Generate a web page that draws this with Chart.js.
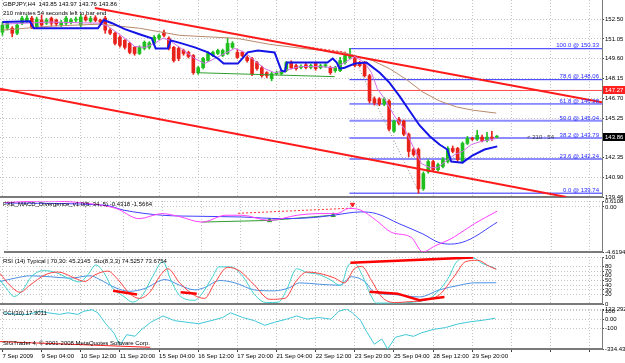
<!DOCTYPE html>
<html>
<head>
<meta charset="utf-8">
<title>GBPJPY H4</title>
<script src="https://cdn.jsdelivr.net/npm/chart.js@4.4.1/dist/chart.umd.min.js"></script>
<style>
  body { margin: 0; background: #fff; }
  #wrap { position: relative; width: 625px; height: 363px; overflow: hidden; background: #fff; }
  #wrap canvas { position: absolute; left: 0; }
  .txt { position: absolute; left: 3px; font: 6px 'Liberation Sans', Arial, sans-serif; color: #000; white-space: pre; line-height: 7px; z-index: 5; }
</style>
</head>
<body>
<div id="wrap">
  <canvas id="mainChart" width="625" height="206" style="top:0"></canvas>
  <canvas id="macdChart" width="625" height="62" style="top:195px"></canvas>
  <canvas id="rsiChart" width="625" height="59" style="top:251px"></canvas>
  <canvas id="cciChart" width="625" height="60" style="top:303px"></canvas>
  <div class="txt" style="top:1px">GBPJPY,H4  143.85 143.97 143.76 143.86</div>
  <div class="txt" style="top:10px">210 minutes 54 seconds left to bar end</div>
  <div class="txt" style="top:201px">FXE_MACD_Divergence_v1.0(5, 34, 5) -0.4318 -1.5664</div>
  <div class="txt" style="top:258px">RSI (14) Typical | 70,30: 45.2145  Sto(8,3,3) 74.5257 73.6754</div>
  <div class="txt" style="top:310px">CCI(30) 17.3011</div>
  <div class="txt" style="top:340px">SIGTrader 4, © 2001-2008 MetaQuotes Software Corp.</div>
</div>
<script>
// ---- GBPJPY H4 candles, 102 bars ----
const opens = [
  151.54, 151.83, 151.83, 151.46, 152.20, 152.35, 152.57, 151.95, 152.43, 152.20,
  152.57, 152.43, 152.06, 152.20, 152.25, 152.43, 152.06, 152.65, 152.35, 152.60,
  152.43, 152.57, 151.69, 151.46, 151.17, 150.94, 150.72, 150.43, 149.98, 150.35,
  150.43, 150.72, 151.10, 151.54, 151.10, 150.43, 150.35, 150.20, 150.06, 149.83,
  148.57, 148.94, 149.46, 149.83, 149.98, 149.83, 149.98, 150.43, 150.06, 150.06,
  149.69, 149.61, 149.31, 148.94, 148.57, 148.13, 148.50, 148.50, 148.72, 149.31,
  149.09, 148.95, 149.15, 148.95, 149.24, 148.94, 149.05, 148.94, 148.72, 148.72,
  149.31, 149.69, 149.61, 149.31, 149.31, 148.35, 146.65, 146.65, 146.28, 146.50,
  144.28, 145.17, 145.02, 144.06, 142.94, 142.94, 140.06, 141.31, 142.06, 141.46,
  141.69, 142.06, 143.02, 143.02, 142.06, 143.39, 143.76, 143.69, 143.85, 143.60,
  143.85, 143.85
];
const highs = [
  152.28, 152.35, 151.95, 152.20, 152.70, 152.75, 152.70, 152.65, 152.80, 152.55,
  152.65, 152.50, 152.40, 152.70, 152.55, 152.65, 152.80, 152.80, 152.70, 152.75,
  152.50, 152.70, 151.80, 151.55, 151.30, 151.00, 150.80, 150.50, 150.55, 150.90,
  150.85, 151.30, 151.40, 151.69, 151.20, 150.50, 150.45, 150.30, 150.15, 149.90,
  149.05, 149.70, 150.10, 150.15, 150.30, 150.30, 151.10, 150.85, 150.30, 150.15,
  149.80, 149.70, 149.40, 149.05, 148.65, 148.60, 148.70, 148.80, 149.40, 149.45,
  149.20, 149.15, 149.25, 149.20, 149.35, 149.20, 149.25, 149.05, 149.05, 149.69,
  149.95, 150.35, 149.75, 149.40, 149.40, 148.45, 146.80, 146.75, 146.75, 146.60,
  145.10, 145.30, 145.10, 144.15, 143.05, 143.05, 141.30, 142.20, 142.15, 141.95,
  142.35, 143.15, 143.20, 143.10, 143.50, 143.90, 143.85, 144.35, 144.00, 144.20,
  144.28, 143.97
];
const lows = [
  151.31, 151.70, 151.20, 151.35, 152.10, 152.25, 151.80, 151.85, 151.95, 152.10,
  152.00, 152.00, 151.95, 152.10, 152.15, 152.30, 151.95, 152.35, 152.25, 152.30,
  152.15, 151.46, 151.35, 150.60, 150.45, 150.30, 149.95, 149.85, 149.90, 150.25,
  150.30, 150.60, 151.00, 151.20, 150.25, 149.35, 149.45, 149.85, 149.65, 148.45,
  148.45, 148.85, 149.40, 149.75, 149.90, 149.75, 149.90, 150.35, 149.60, 149.75,
  149.35, 148.35, 148.75, 148.25, 148.20, 147.98, 148.40, 148.40, 148.65, 148.85,
  148.75, 148.85, 148.85, 148.85, 148.75, 148.85, 148.95, 148.45, 148.60, 148.65,
  149.20, 149.60, 149.00, 149.00, 148.25, 146.35, 146.20, 146.15, 146.15, 144.30,
  144.20, 144.75, 143.95, 142.40, 142.45, 139.74, 139.95, 141.20, 141.35, 141.35,
  141.60, 141.95, 142.70, 142.10, 141.95, 143.30, 143.60, 143.60, 143.50, 143.50,
  143.60, 143.76
];
const closes = [
  152.06, 152.20, 151.46, 152.06, 152.57, 152.57, 151.91, 152.50, 152.06, 152.43,
  152.20, 152.15, 152.28, 152.57, 152.43, 152.50, 152.65, 152.43, 152.55, 152.40,
  152.28, 151.69, 151.46, 150.72, 150.57, 150.43, 150.06, 149.98, 150.43, 150.80,
  150.75, 151.17, 151.30, 151.31, 150.35, 149.46, 149.61, 149.98, 149.76, 148.57,
  148.94, 149.61, 149.98, 150.06, 150.20, 150.20, 150.72, 150.72, 149.69, 149.83,
  149.46, 148.50, 148.87, 148.35, 148.35, 148.50, 148.57, 148.72, 149.31, 148.94,
  148.87, 149.05, 148.94, 149.10, 148.87, 149.09, 149.15, 148.57, 148.94, 149.46,
  149.83, 149.83, 149.09, 149.09, 148.35, 146.50, 146.35, 146.28, 146.65, 144.43,
  145.02, 144.87, 144.06, 142.80, 142.57, 140.06, 141.17, 142.06, 141.46, 141.83,
  142.20, 143.02, 142.80, 142.20, 143.39, 143.76, 143.69, 143.98, 143.60, 143.85,
  143.78, 143.86
];

// time axis: one tick every 8 bars
const xTickBars = [0, 8, 16, 24, 32, 40, 48, 56, 64, 72, 80, 88, 96, 104, 112, 120];
const dateLabels = ['7 Sep 2009', '9 Sep 04:00', '10 Sep 12:00', '11 Sep 20:00', '15 Sep 04:00',
  '16 Sep 12:00', '17 Sep 20:00', '21 Sep 04:00', '22 Sep 12:00', '23 Sep 20:00',
  '25 Sep 04:00', '28 Sep 12:00', '29 Sep 20:00'];

// price axis
const mainTicks = [139.46, 140.90, 142.35, 143.80, 145.25, 146.70, 148.15, 149.60, 151.05, 152.50];
const mainTickLabels = ['139.46', '140.90', '142.35', '143.80', '145.25', '146.70', '148.15', '149.60', '151.05', '152.50'];
const mainRange = [139.46, 153.90];

// overlays on price, [bar, price]
const blueLine = [[0, 152.28], [5.6, 152.35], [6.4, 151.83], [19.5, 151.83], [20.7, 152.43], [22.4, 152.2],
  [25, 151.76], [28, 151.39], [30.5, 151.1], [31.3, 150.35], [33.8, 150.35], [34.4, 150.94], [36.6, 150.72],
  [39.3, 150.43], [42, 150.06], [44, 149.61], [45.2, 149.24], [48.1, 149.24], [50.1, 150.06], [52.2, 150.2],
  [55.6, 150.06], [57, 148.72], [57.7, 148.65], [58.1, 149.31], [66.4, 149.31], [67.5, 149.61], [68.3, 149.31],
  [68.9, 148.87], [69.9, 148.94], [72, 149.24], [74.4, 149.31], [77.1, 148.57], [79.1, 147.83], [81.1, 146.87],
  [83.2, 145.76], [85.2, 144.72], [87.3, 143.91], [89.3, 143.31], [90.9, 142.94], [91.7, 142.06], [94, 141.98],
  [96, 142.5], [98.5, 142.94], [101.1, 143.17]];
const violetLine = [[0, 152.13], [9.7, 152.28], [19.9, 152.2], [21.5, 151.98], [23.6, 151.46], [25.6, 150.94],
  [27, 150.5], [29.1, 150.43], [31.1, 150.72], [32.8, 151.1], [34.2, 150.94], [36.2, 150.43], [39.3, 149.61],
  [41.3, 149.24], [43.4, 149.61], [45.4, 149.98], [47.5, 150.35], [49.5, 150.06], [51.5, 149.46], [53.6, 148.87],
  [55.6, 148.57], [57.7, 148.72], [60.7, 149.02], [64.8, 149.02], [67.9, 148.94], [69.9, 149.31], [72, 149.76],
  [74, 149.31], [75.4, 148.57], [76.6, 147.39], [78.1, 146.65], [80.1, 145.39], [82.2, 144.43], [84.2, 142.94],
  [85.6, 141.91], [87.3, 141.61], [88.9, 141.61], [90.5, 142.06], [92.4, 142.57], [94, 142.8], [95.8, 143.31],
  [97.9, 143.54], [101.1, 143.76]];
const brownLine = [[0, 151.69], [9.7, 151.98], [19.9, 152.13], [28, 151.83], [36.2, 151.31], [47.9, 151.09],
  [54.6, 150.65], [61.3, 150.35], [69.5, 150.06], [75.6, 149.46], [79.1, 148.87], [82.6, 148.06], [85.8, 147.17],
  [89.3, 146.5], [92.8, 146.06], [96, 145.83], [100.9, 145.61]];
const trendUpper = [[18.9, 153.31], [122.5, 146.40]];
const trendLower = [[-0.5, 147.39], [115.2, 139.46]];
const redLevel = 147.27;
const redDashPrice = [[60.1, 150.57], [70.3, 150.06]];
const greenPrice = [[39.7, 148.57], [67.9, 148.28]];
const fibStartBar = 70.9;
const fibLevels = [139.74, 142.24, 143.79, 145.04, 146.28, 148.06, 150.33];
const fibNames = ['0.0', '23.6', '38.2', '50.0', '61.8', '78.6', '100.0'];
const fibDiag = [[70.9, 150.33], [85.2, 139.74]];
const tagValues = [147.27, 143.86];
const timerBar = 107.2;

// MACD panel
const macdRange = [-4.6194, 0.6108];
const macdTicks = [-4.6194, 0, 0.6108];
const macdTickLabels = ['-4.6194', '0.00', '0.6108'];
const macdFast = [[-0.5, 0.45], [7.7, 0.61], [15.8, 0.40], [22.4, -0.15], [27.1, -1.20], [31.9, -0.68],
  [35.2, -0.96], [40.1, -1.55], [45, -0.85], [48.3, -0.85], [54, -1.38], [59.7, -0.85], [64.6, -0.68],
  [67.9, -0.68], [70.3, -0.15], [72.8, -0.33], [76, -1.38], [79.1, -2.6], [83.2, -3.12], [85.6, -4.6194],
  [88.1, -3.99], [91.3, -3.29], [93, -2.77], [96.2, -1.72], [100.9, -0.43]];
const macdSlow = [[-0.5, 0.40], [20, 0.19], [24, -0.33], [31.9, -0.85], [40.1, -0.96], [48.3, -1.03],
  [56.4, -1.2], [63, -1.09], [67.1, -0.85], [72.8, -0.51], [76, -0.68], [80.7, -1.72], [85.6, -2.77],
  [88.9, -3.65], [91.3, -3.81], [94.6, -3.47], [100.9, -1.57]];
const macdBullDiv = [[40.1, -1.55], [54, -1.38], [67.1, -0.85]];
const macdBearDiv = [[47.5, -0.65], [71.1, -0.12]];
const macdBearArrow = [[71.1, 0.25]];

// RSI / Stochastic panel
const rsiTicks = [0, 20, 30, 40, 50, 60, 70, 80, 100];
const rsiTickLabels = ['0', '20', '30', '40', '50', '60', '70', '80', '100'];
const stochMain = [[-0.5, 51], [0.7, 35], [2.4, 16], [4, 28], [6, 59], [8.5, 71], [10.9, 67], [13.4, 55],
  [15.8, 47], [17.5, 63], [19.1, 83], [20.7, 67], [22.4, 35], [24.8, 16], [26.6, 4], [28.7, 20], [30.7, 59],
  [32.8, 90], [34.4, 51], [36.4, 16], [39.3, 8], [40.9, 24], [43, 59], [44.2, 79], [46.6, 79], [49.1, 59],
  [51.5, 20], [54, 3], [56.4, 4], [58.1, 31], [60.1, 75], [62.2, 67], [64.6, 63], [67.1, 51], [69.1, 39],
  [70.7, 83], [71.9, 87], [73.6, 59], [75.2, 20], [76.4, 2], [80.7, 2], [84, 4], [87.3, 12], [89.7, 35],
  [91.3, 59], [92.6, 87], [94.2, 98], [96.2, 98], [97.9, 87], [99.9, 79], [100.9, 74.5]];
const stochSignal = [[-0.5, 65], [1.5, 40], [3.6, 25], [5.6, 40], [8.7, 62], [11.3, 68], [14.8, 55],
  [16.8, 48], [18.9, 62], [21.5, 70], [23.6, 52], [26, 22], [28, 12], [30.1, 25], [32.2, 60], [33.8, 75],
  [36.2, 45], [39.3, 18], [41.3, 12], [43.4, 45], [46, 78], [48.5, 70], [51.5, 40], [54.6, 10], [57.7, 12],
  [60.1, 50], [62.2, 68], [64.8, 65], [67.9, 55], [69.9, 45], [71.9, 75], [73.4, 80], [75.4, 50], [77.5, 15],
  [80.1, 3], [83.2, 5], [86.2, 8], [89.3, 20], [92.4, 60], [94.6, 90], [97.1, 93], [99.5, 80], [100.9, 73.7]];
const rsiLine = [[-0.5, 48], [2.6, 55], [5.6, 60], [9.7, 58], [13.8, 55], [17.9, 60], [19.9, 52], [23, 35],
  [26, 27], [29.1, 33], [33.2, 52], [36.2, 40], [39.3, 30], [41.3, 35], [44.4, 50], [47.5, 45], [51.5, 30],
  [55.6, 28], [58.7, 35], [60.7, 45], [64.8, 42], [68.9, 40], [71.3, 58], [74, 48], [76, 25], [80.1, 20],
  [85.2, 15], [89.3, 30], [93.4, 40], [96.4, 45], [100.9, 45.2]];
const rsiDivA = [[22.6, 28], [27.5, 20]];
const rsiDivB = [[36.4, 25], [39.7, 22]];
const rsiDivTop = [[71.1, 88], [96.2, 99]];
const rsiDivLow = [[75, 26], [80.7, 22], [85.2, 8], [90.3, 15]];

// CCI panel
const cciRange = [-334.438, 122.292];
const cciTicks = [-334.438, -100, 0, 100, 122.292];
const cciTickLabels = ['-334.438', '-100', '0.00', '100', '122.292'];
const cciLine = [[0.3, 79], [2.8, 61], [5.2, 61], [7.7, 96], [9.3, 79], [11.7, 61], [13.4, 79], [15.4, 61],
  [16.6, 96], [18.3, 114], [19.5, 79], [21.1, -46], [22.8, -154], [24, -290], [25.4, -171], [27.1, -189],
  [28.3, -118], [30.3, -29], [32.8, 43], [35.2, -11], [37.7, -29], [40.1, -46], [42.6, -11], [45, 25],
  [46.6, 79], [49.1, 25], [51.5, -11], [53.6, -64], [55.6, -29], [58.1, 7], [60.1, 43], [62.2, 7], [64.6, 25],
  [67.1, 7], [68.7, 96], [70.3, 122], [71.5, 79], [73.2, -11], [74.4, -136], [76, -280], [77.5, -220],
  [78.7, -334], [80.3, -200], [82.4, -170], [84, -190], [85.6, -150], [88.1, -110], [90.5, -90], [93, -50],
  [95.4, -25], [98.3, -5], [100.7, 17]];
const cciTrend = [[-0.5, -250], [30.2, -315]];

// ---- styling ----
Chart.defaults.font.family = "'Liberation Sans', Arial, sans-serif";
Chart.defaults.font.size = 6;
Chart.defaults.color = '#000';

const GRID = '#c4c4c4';
const FRAME = '#7a7a7a';
const BULL = '#1fbf1f';
const BEAR = '#e8211b';

function pts(list) {
  return list.map(([x, y]) => ({ x, y }));
}

function line(list, color, width, extra) {
  return Object.assign({
    type: 'line',
    data: pts(list),
    borderColor: color,
    backgroundColor: color,
    borderWidth: width,
    pointRadius: 0,
    fill: false,
    tension: 0,
    order: 0
  }, extra || {});
}

function xAxis(showLabels) {
  return {
    type: 'linear', min: -0.5, max: 122.5, offset: false,
    afterBuildTicks: s => { s.ticks = xTickBars.map(v => ({ value: v })); },
    ticks: {
      display: showLabels, autoSkip: false, maxRotation: 0, minRotation: 0,
      align: 'start', padding: 1,
      callback: v => dateLabels[xTickBars.indexOf(v)] || ''
    },
    grid: { color: GRID, offset: false, drawTicks: showLabels, tickLength: 3, tickColor: '#404040' },
    border: { display: true, color: FRAME, width: 2, dash: [1, 2] },
    afterFit: s => { s.height = showLabels ? 14 : 0; s.paddingLeft = 0; s.paddingRight = 0; }
  };
}

function yAxis(range, ticks, labels) {
  return {
    type: 'linear', position: 'right', min: range[0], max: range[1],
    afterBuildTicks: s => { s.ticks = ticks.map(v => ({ value: v })); },
    ticks: { padding: 1, autoSkip: false, callback: v => labels[ticks.indexOf(v)] },
    grid: { color: GRID, tickLength: 2, tickColor: '#404040' },
    border: { display: true, color: FRAME, width: 1, dash: [1, 2] },
    afterFit: s => { s.width = 23; s.paddingTop = 0; s.paddingBottom = 0; }
  };
}

function panel(id, datasets, x, y, padding, plugins) {
  return new Chart(document.getElementById(id), {
    type: 'bar',
    data: { datasets },
    options: {
      responsive: false,
      animation: false,
      devicePixelRatio: 1,
      layout: { padding },
      plugins: { legend: { display: false }, tooltip: { enabled: false } },
      scales: { x, y }
    },
    plugins: plugins || []
  });
}

// ---- main price panel ----
const candleColors = opens.map((o, i) => closes[i] >= o ? BULL : BEAR);

const mainOverlay = {
  id: 'mainOverlay',
  afterDraw(chart) {
    const { ctx, chartArea, scales: { x, y } } = chart;
    ctx.save();
    ctx.font = "6px 'Liberation Sans', Arial, sans-serif";
    ctx.textAlign = 'right';
    ctx.textBaseline = 'bottom';
    ctx.fillStyle = '#2828ff';
    fibLevels.forEach((v, i) => {
      ctx.fillText(fibNames[i] + ' @ ' + v.toFixed(2), chartArea.right - 3, y.getPixelForValue(v));
    });
    ctx.textAlign = 'left';
    ctx.textBaseline = 'middle';
    ctx.fillStyle = '#333';
    ctx.fillText('< 210 : 54', x.getPixelForValue(timerBar), y.getPixelForValue(closes[closes.length - 1]));
    const tagBg = ['#ff2020', '#000'];
    tagValues.forEach((v, i) => {
      const py = y.getPixelForValue(v);
      ctx.fillStyle = tagBg[i];
      ctx.fillRect(chartArea.right + 1, Math.round(py) - 4, 23, 8);
      ctx.fillStyle = '#fff';
      ctx.fillText(v.toFixed(2), chartArea.right + 3, py);
    });
    ctx.restore();
  }
};

const fibSets = fibLevels.map((v, i) => {
  const soft = i >= 1 && i <= 3;
  return line([[fibStartBar, v], [122.5, v]], soft ? '#8c8cff' : '#2a2aff', soft ? 2 : 1, { order: 4 });
});

panel('mainChart', [
  line(blueLine, '#1414e6', 2),
  line(violetLine, '#d070e8', 1),
  line(brownLine, '#b88a6a', 1, { order: 1 }),
  line(trendUpper, '#ff1a1a', 2),
  line(trendLower, '#ff1a1a', 2),
  line([[-0.5, redLevel], [122.5, redLevel]], '#ff4a4a', 1, { order: 4 }),
  line(redDashPrice, '#ff3030', 1, { borderDash: [2, 2] }),
  line(greenPrice, '#2e9e2e', 1),
  line(fibDiag, '#909090', 1, { borderDash: [1, 2], order: 4 }),
  ...fibSets,
  {
    type: 'bar',
    data: opens.map((o, i) => ({ x: i, y: [o, closes[i]] })),
    backgroundColor: candleColors,
    barThickness: 3,
    minBarLength: 1,
    grouped: false,
    order: 2
  },
  {
    type: 'bar',
    data: highs.map((h, i) => ({ x: i, y: [lows[i], h] })),
    backgroundColor: candleColors,
    barThickness: 1,
    grouped: false,
    order: 3
  }
], xAxis(false), yAxis(mainRange, mainTicks, mainTickLabels), { top: 0, bottom: 9, left: 0, right: 0 }, [mainOverlay]);

// ---- MACD panel ----
panel('macdChart', [
  line(macdFast, '#ff40ff', 1, { cubicInterpolationMode: 'monotone' }),
  line(macdSlow, '#4040ff', 1, { cubicInterpolationMode: 'monotone' }),
  line(macdBullDiv, '#2e9e2e', 1, { pointRadius: [0, 2.5, 2.5], pointStyle: 'triangle' }),
  line(macdBearDiv, '#ff3030', 1, { borderDash: [2, 2] }),
  line(macdBearArrow, '#ff2020', 1, { showLine: false, pointRadius: 2.5, pointStyle: 'triangle', rotation: 180 })
], xAxis(false), yAxis(macdRange, macdTicks, macdTickLabels), { top: 6, bottom: 5, left: 0, right: 0 });

// ---- RSI / Stochastic panel ----
panel('rsiChart', [
  line(rsiDivA, '#ff0000', 2.5),
  line(rsiDivB, '#ff0000', 2.5),
  line(rsiDivTop, '#ff0000', 2.5),
  line(rsiDivLow, '#ff0000', 2.5),
  line(stochSignal, '#ff4040', 1, { cubicInterpolationMode: 'monotone', order: 1 }),
  line(stochMain, '#40d0d0', 1, { cubicInterpolationMode: 'monotone', order: 1 }),
  line(rsiLine, '#4a90e2', 1, { cubicInterpolationMode: 'monotone', order: 1 })
], xAxis(false), yAxis([0, 100], rsiTicks, rsiTickLabels), { top: 6, bottom: 6, left: 0, right: 0 });

// ---- CCI panel ----
panel('cciChart', [
  line(cciLine, '#40c8d8', 1),
  line(cciTrend, '#ff2020', 1)
], xAxis(true), yAxis(cciRange, cciTicks, cciTickLabels), { top: 6, bottom: 0, left: 0, right: 0 });
</script>
</body>
</html>
